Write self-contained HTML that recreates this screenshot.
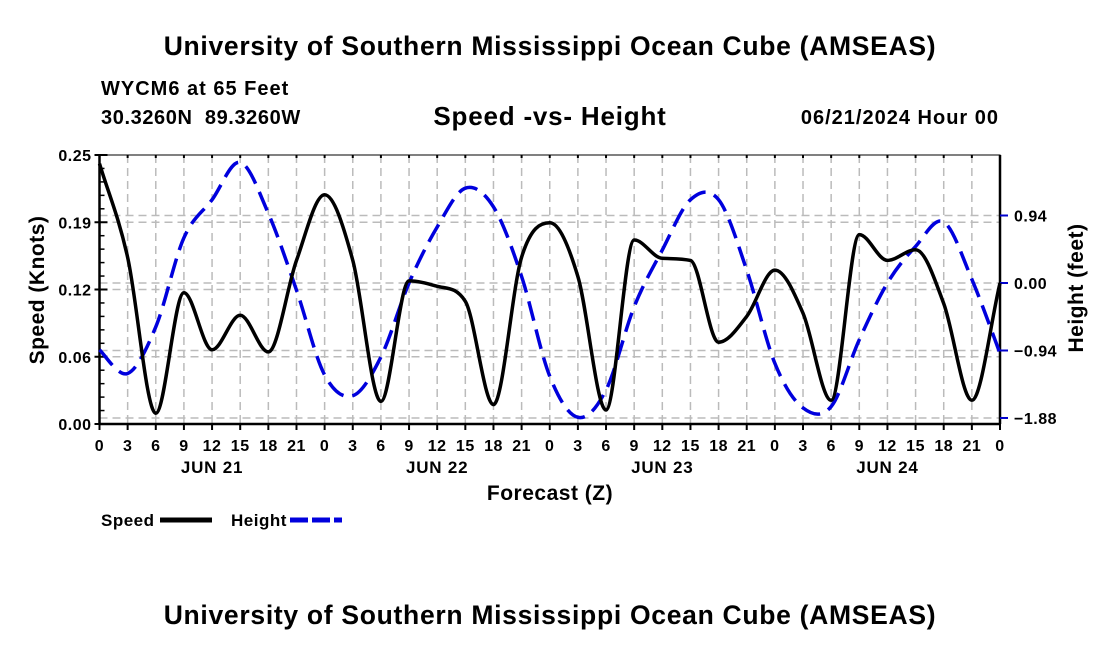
<!DOCTYPE html>
<html><head><meta charset="utf-8"><style>
body{margin:0;background:#fff;}
svg{display:block;font-family:"Liberation Sans",Arial,sans-serif;font-weight:bold;}
</style></head><body>
<svg id="chart" width="1100" height="650" viewBox="0 0 1100 650">
<text x="550" y="55" text-anchor="middle" font-size="26.5" letter-spacing="0.7">University of Southern Mississippi Ocean Cube (AMSEAS)</text>
<text x="101" y="95" font-size="20" letter-spacing="1">WYCM6 at 65 Feet</text>
<text x="101" y="124" font-size="20" letter-spacing="0.6" style="white-space:pre">30.3260N  89.3260W</text>
<text x="550" y="125" text-anchor="middle" font-size="26" letter-spacing="0.8">Speed -vs- Height</text>
<text x="999" y="124" text-anchor="end" font-size="20" letter-spacing="1">06/21/2024 Hour 00</text>
<g id="grid"></g>
<g id="axes"></g>
<g id="series"></g>
<text transform="translate(44,290) rotate(-90)" text-anchor="middle" font-size="21" letter-spacing="0.5">Speed (Knots)</text>
<text transform="translate(1083,288) rotate(-90)" text-anchor="middle" font-size="21" letter-spacing="0.5">Height (feet)</text>
<text x="550" y="500" text-anchor="middle" font-size="21" letter-spacing="0.5">Forecast (Z)</text>
<g>
<text x="101" y="526" font-size="17" letter-spacing="0.5">Speed</text>
<line x1="160" y1="520" x2="212" y2="520" stroke="#000" stroke-width="5"/>
<text x="231" y="526" font-size="17" letter-spacing="0.5">Height</text>
<line x1="290" y1="520" x2="342" y2="520" stroke="#0000dd" stroke-width="5" stroke-dasharray="18,4"/>
</g>
<text x="550" y="624" text-anchor="middle" font-size="26.5" letter-spacing="0.7">University of Southern Mississippi Ocean Cube (AMSEAS)</text>
</svg>
<script>
const hours=[0,3,6,9,12,15,18,21,24,27,30,33,36,39,42,45,48,51,54,57,60,63,66,69,72,75,78,81,84,87,90,93,96];
const speed=[0.242,0.155,0.010,0.122,0.069,0.101,0.067,0.152,0.213,0.152,0.021,0.133,0.128,0.114,0.018,0.155,0.187,0.137,0.013,0.171,0.154,0.152,0.076,0.100,0.143,0.103,0.022,0.176,0.152,0.162,0.112,0.022,0.131];
const height=[-0.93,-1.26,-0.61,0.63,1.16,1.68,0.97,-0.10,-1.28,-1.57,-1.03,0.00,0.78,1.32,1.06,0.09,-1.30,-1.87,-1.49,-0.33,0.46,1.16,1.16,0.18,-1.12,-1.74,-1.72,-0.79,0.00,0.51,0.85,0.05,-0.98];
const xTickLabels=["0","3","6","9","12","15","18","21"];
const dayLabels=["JUN 21","JUN 22","JUN 23","JUN 24"];
const leftTicks=[0,0.0625,0.125,0.1875,0.25];
const leftTickLabels=["0.00","0.06","0.12","0.19","0.25"];
const rightTicks=[0.94,0,-0.94,-1.88];
const rightTickLabels=["0.94","0.00","\u22120.94","\u22121.88"];

const NS="http://www.w3.org/2000/svg";
const X0=99.5,X1=1000,Y0=424,Y1=155;
const xs=h=>X0+(h/96)*(X1-X0);
const ysL=s=>Y0-(s/0.25)*(Y0-Y1);
const ysR=v=>283-v*71.8;
function mk(parent,tag,attrs){const e=document.createElementNS(NS,tag);for(const k in attrs)e.setAttribute(k,attrs[k]);document.getElementById(parent).appendChild(e);return e;}

for(let h=3;h<96;h+=3){
 const g=mk('grid','line',{x1:xs(h),x2:xs(h),y1:Y1,y2:Y0,stroke:'#bbb','stroke-width':1.5,'stroke-dasharray':'8,5'});
 
 
}
leftTicks.forEach((t,i)=>{ if(i==0||i==4)return;
 const g=mk('grid','line',{x1:X0,x2:X1,y1:ysL(t),y2:ysL(t),stroke:'#bbb','stroke-width':1.5,'stroke-dasharray':'8,5'});
 
 
});
rightTicks.forEach(t=>{
 const g=mk('grid','line',{x1:X0,x2:X1,y1:ysR(t),y2:ysR(t),stroke:'#bbb','stroke-width':1.5,'stroke-dasharray':'8,5'});
 
 
});

const fr=mk('axes','rect',{x:X0,y:Y1,width:X1-X0,height:Y0-Y1,fill:'none',stroke:'#000','stroke-width':1});


const la=mk('axes','line',{x1:X0,x2:X0,y1:Y1,y2:Y0,stroke:'#000','stroke-width':2.5});


const ra=mk('axes','line',{x1:X1,x2:X1,y1:Y1,y2:Y0,stroke:'#000','stroke-width':2.5});


const ba=mk('axes','line',{x1:X0,x2:X1,y1:Y0,y2:Y0,stroke:'#000','stroke-width':2.5});


for(let s=0;s<=0.25001;s+=0.0125){
 const t=mk('axes','line',{x1:X0,x2:X0+5,y1:ysL(s),y2:ysL(s),stroke:'#000','stroke-width':1.5});
 
 
}
leftTicks.forEach((t,i)=>{
 const l=mk('axes','line',{x1:X0-5,x2:X0+8,y1:ysL(t),y2:ysL(t),stroke:'#000','stroke-width':2});
 
 
 const tx=mk('axes','text',{x:X0-8,y:ysL(t)+6,'text-anchor':'end','font-size':16,'letter-spacing':0.5});
 tx.textContent=leftTickLabels[i];
 
 
});
rightTicks.forEach((t,i)=>{
 const l=mk('axes','line',{x1:X1,x2:X1+8,y1:ysR(t),y2:ysR(t),stroke:'#0000cc','stroke-width':2});
 
 
 const tx=mk('axes','text',{x:X1+14,y:ysR(t)+6,'font-size':16,'letter-spacing':0.5});
 tx.textContent=rightTickLabels[i];
 
 
});
for(let h=0;h<=96;h+=3){
 const l=mk('axes','line',{x1:xs(h),x2:xs(h),y1:Y0,y2:Y0+6,stroke:'#000','stroke-width':2});
 
 
 const tp=mk('axes','line',{x1:xs(h),x2:xs(h),y1:Y1,y2:Y1+3,stroke:'#000','stroke-width':2});
 
 
 const tx=mk('axes','text',{x:xs(h),y:451,'text-anchor':'middle','font-size':16,'letter-spacing':0.5});
 tx.textContent=xTickLabels[(h/3)%8];
 
 
}
dayLabels.forEach((d,i)=>{
 const tx=mk('axes','text',{x:xs(12+24*i),y:473,'text-anchor':'middle','font-size':17,'letter-spacing':0.8});
 tx.textContent=d;
 
 
});

function catmull(px,py){
 let d='M'+px[0].toFixed(1)+','+py[0].toFixed(1);
 for(let i=0;i<px.length-1;i++){
  const p0=i?i-1:i,p3=i+2<px.length?i+2:i+1;
  const c1x=px[i]+(px[i+1]-px[p0])/6,c1y=py[i]+(py[i+1]-py[p0])/6;
  const c2x=px[i+1]-(px[p3]-px[i])/6,c2y=py[i+1]-(py[p3]-py[i])/6;
  d+=` C${c1x.toFixed(1)},${c1y.toFixed(1)} ${c2x.toFixed(1)},${c2y.toFixed(1)} ${px[i+1].toFixed(1)},${py[i+1].toFixed(1)}`;
 }
 return d;
}
function monotone(px,py){
 const n=px.length,dx=[],m=[],t=new Array(n);
 for(let i=0;i<n-1;i++){dx[i]=px[i+1]-px[i];m[i]=(py[i+1]-py[i])/dx[i];}
 t[0]=m[0];t[n-1]=m[n-2];
 for(let i=1;i<n-1;i++){ if(m[i-1]*m[i]<=0)t[i]=0; else t[i]=(m[i-1]+m[i])/2; }
 for(let i=0;i<n-1;i++){
  if(m[i]===0){t[i]=0;t[i+1]=0;continue;}
  const a=t[i]/m[i],b=t[i+1]/m[i],s=a*a+b*b;
  if(s>9){const k=3/Math.sqrt(s);t[i]=k*a*m[i];t[i+1]=k*b*m[i];}
 }
 let d='M'+px[0].toFixed(1)+','+py[0].toFixed(1);
 for(let i=0;i<n-1;i++){
  const h=dx[i]/3;
  d+=` C${(px[i]+h).toFixed(1)},${(py[i]+t[i]*h).toFixed(1)} ${(px[i+1]-h).toFixed(1)},${(py[i+1]-t[i+1]*h).toFixed(1)} ${px[i+1].toFixed(1)},${py[i+1].toFixed(1)}`;
 }
 return d;
}
const hp=mk('series','path',{d:catmull(hours.map(xs),height.map(ysR)),fill:'none',stroke:'#0000dd','stroke-width':3.5,'stroke-dasharray':'20,9'});


const sp=mk('series','path',{d:monotone(hours.map(xs),speed.map(ysL)),fill:'none',stroke:'#000','stroke-width':3.5});


</script>
</body></html>
